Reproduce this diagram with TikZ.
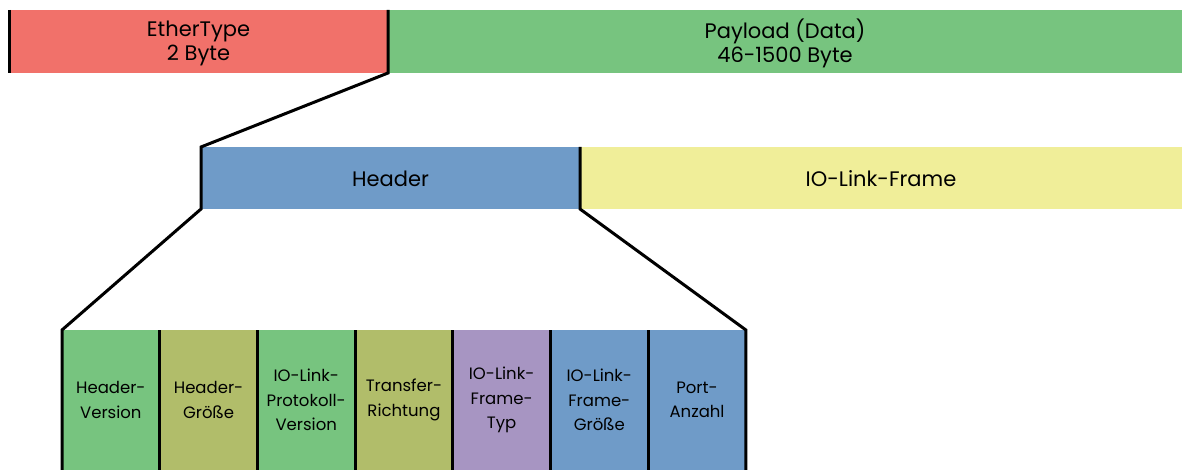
\documentclass[tikz,border=0pt]{standalone}
\usepackage{fontspec}
\setmainfont{Poppins}
\definecolor{cRed}{HTML}{F1716A}
\definecolor{cGreen}{HTML}{77C47F}
\definecolor{cBlue}{HTML}{6F9BC8}
\definecolor{cYellow}{HTML}{F0EE99}
\definecolor{cOlive}{HTML}{B1BD6A}
\definecolor{cPurple}{HTML}{A795C2}
\tikzset{
  field/.style={anchor=north west, inner sep=0pt, outer sep=0pt},
  topfield/.style={field, minimum height=63pt},
  midfield/.style={field, minimum height=62pt},
  subfield/.style={field, minimum width=97.7pt, minimum height=140pt},
  bigtext/.style={align=center, inner sep=0pt, text=black,
    font=\fontsize{21}{24}\selectfont},
  smalltext/.style={align=center, inner sep=0pt, text=black,
    font=\fontsize{16.5}{24.5}\selectfont},
  edge/.style={black, line width=3pt},
}
\begin{document}
\begin{tikzpicture}[x=1pt, y=-1pt]
\useasboundingbox (0,0) rectangle (1182,470);
\begin{scope}
\clip (0,0) rectangle (1182,470);
% Ethernet frame (upper row)
\node[topfield, fill=cRed, minimum width=379pt] (eth) at (9,10) {};
\node[topfield, fill=cGreen, minimum width=800pt] (pay) at (388,10) {};
\node[bigtext] (ethT) at ([yshift=-2pt]eth.center) {EtherType\\2 Byte};
\node[bigtext] (payT) at ([xshift=-3pt,yshift=-2pt]pay.center) {Payload (Data)\\46-1500 Byte};
% Payload split (middle row)
\node[midfield, fill=cBlue, minimum width=379pt] (hdr) at (201,147) {};
\node[midfield, fill=cYellow, minimum width=610pt] (iol) at (580,147) {};
\node[bigtext] (hdrT) at ([yshift=-1pt]hdr.center) {Header};
\node[bigtext] (iolT) at ([xshift=-4pt,yshift=-1pt]iol.center) {IO-Link-Frame};
% Header fields (lower row)
\node[subfield, fill=cGreen]  (f1) at (62,330) {};
\node[subfield, fill=cOlive]  (f2) at (f1.north east) {};
\node[subfield, fill=cGreen]  (f3) at (f2.north east) {};
\node[subfield, fill=cOlive]  (f4) at (f3.north east) {};
\node[subfield, fill=cPurple] (f5) at (f4.north east) {};
\node[subfield, fill=cBlue]   (f6) at (f5.north east) {};
\node[subfield, fill=cBlue]   (f7) at (f6.north east) {};
\node[smalltext] (t1) at (f1.center) {Header-\\Version};
\node[smalltext] (t2) at (f2.center) {Header-\\Größe};
\node[smalltext] (t3) at (f3.center) {IO-Link-\\Protokoll-\\Version};
\node[smalltext] (t4) at (f4.center) {Transfer-\\Richtung};
\node[smalltext] (t5) at (f5.center) {IO-Link-\\Frame-\\Typ};
\node[smalltext] (t6) at (f6.center) {IO-Link-\\Frame-\\Größe};
\node[smalltext] (t7) at (f7.center) {Port-\\Anzahl};
% Outlines and zoom lines
\draw[edge] (eth.north west) -- (eth.south west);
\draw[edge] (eth.north east) -- (eth.south east) -- (hdr.north west)
  -- (hdr.south west) -- (f1.north west) -- (f1.south west);
\draw[edge] (hdr.north east) -- (hdr.south east) -- (f7.north east) -- (f7.south east);
\foreach \i in {2,...,7} {
  \draw[edge] (f\i.north west) -- (f\i.south west);
}
\end{scope}
\end{tikzpicture}
\end{document}
